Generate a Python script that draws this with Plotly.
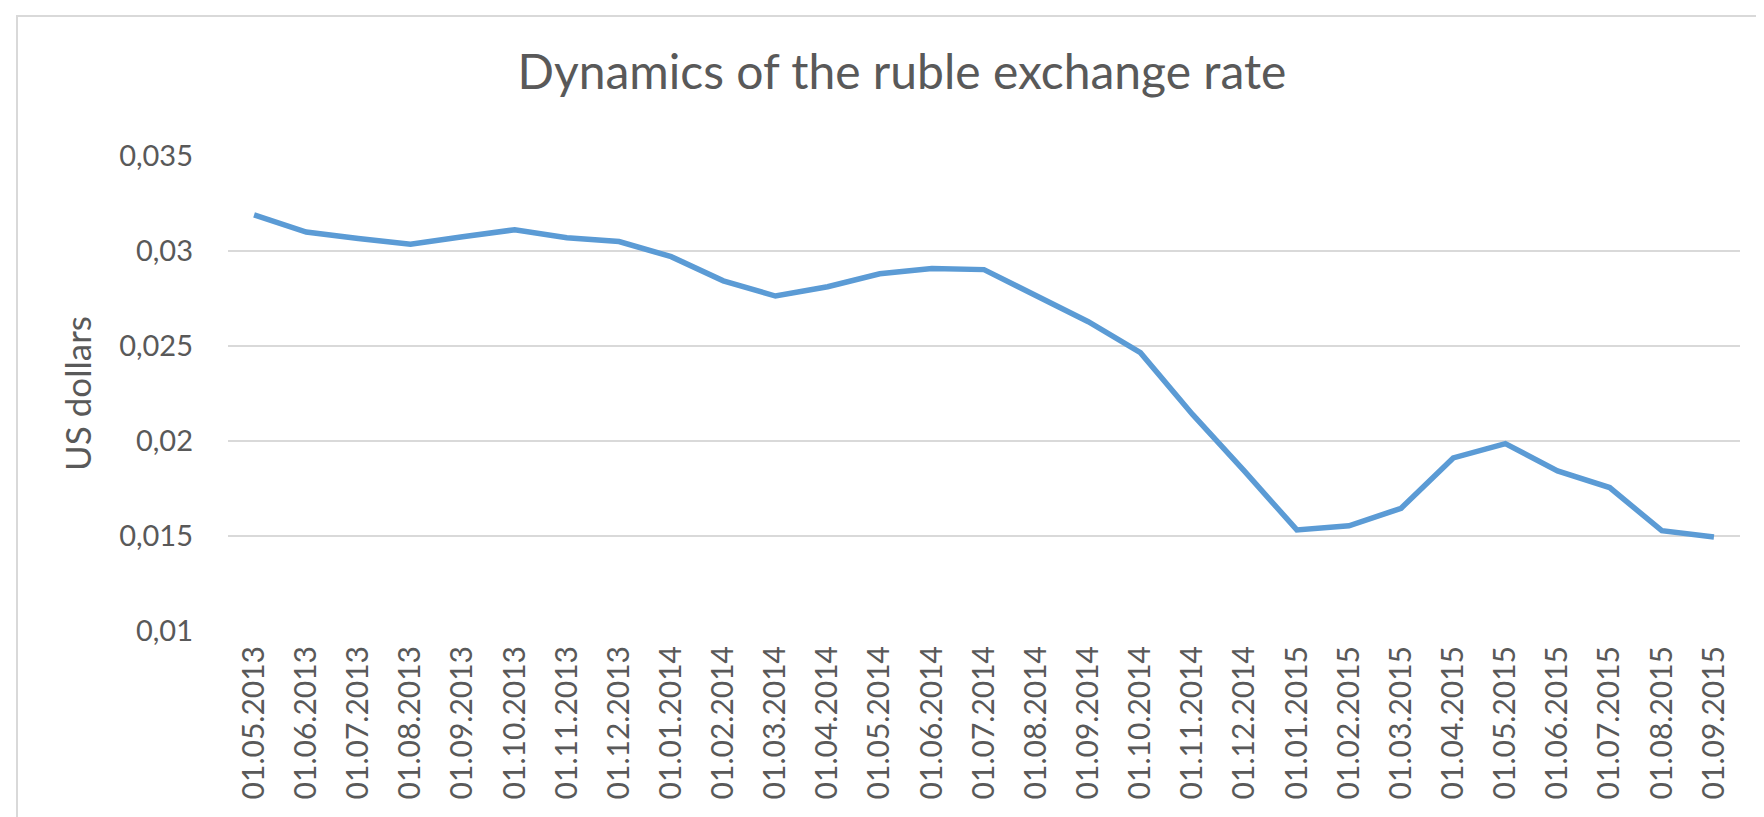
import plotly.graph_objects as go

# monthly dates (category labels) and ruble value in US dollars
dates = [
    "01.05.2013", "01.06.2013", "01.07.2013", "01.08.2013", "01.09.2013",
    "01.10.2013", "01.11.2013", "01.12.2013", "01.01.2014", "01.02.2014",
    "01.03.2014", "01.04.2014", "01.05.2014", "01.06.2014", "01.07.2014",
    "01.08.2014", "01.09.2014", "01.10.2014", "01.11.2014", "01.12.2014",
    "01.01.2015", "01.02.2015", "01.03.2015", "01.04.2015", "01.05.2015",
    "01.06.2015", "01.07.2015", "01.08.2015", "01.09.2015",
]
rate_usd = [
    0.0319, 0.0310, 0.03066, 0.03036, 0.03075,
    0.03112, 0.0307, 0.0305, 0.0297, 0.02843,
    0.02763, 0.02812, 0.0288, 0.02908, 0.02902,
    0.02766, 0.02628, 0.02465, 0.02140, 0.01840,
    0.01532, 0.01554, 0.01646, 0.01911, 0.01986,
    0.01843, 0.01755, 0.01528, 0.01495,
]
y_ticks = [0.01, 0.015, 0.02, 0.025, 0.03, 0.035]

W, H = 1764, 817
L, R, T, B = 220, 32, 148, 194
pw, ph = W - L - R, H - T - B

FONT = "Lato, Roboto, sans-serif"
GREY = "#595959"

fig = go.Figure()
fig.add_trace(go.Scatter(
    x=dates, y=rate_usd, mode="lines",
    line=dict(color="#5B9BD5", width=5.5),
    hoverinfo="x+y",
))

# outer chart frame (Excel-style chart border)
def px_x(v):
    return (v - L) / pw

def px_y(v):
    return (H - B - v) / ph

fig.add_shape(type="rect", xref="paper", yref="paper",
              x0=px_x(9), x1=px_x(1790), y0=px_y(8), y1=px_y(830),
              line=dict(color="#D9D9D9", width=2), layer="below")

fig.update_layout(
    width=W, height=H,
    margin=dict(l=L, r=R, t=T, b=B),
    paper_bgcolor="white", plot_bgcolor="white",
    separators=", ",
    showlegend=False,
    font=dict(family=FONT, color=GREY),
    title=dict(
        text="Dynamics of the ruble exchange rate",
        font=dict(family=FONT, size=48, color=GREY),
        x=894 / W, xref="container", xanchor="center",
        y=1 - 64 / H, yref="container", yanchor="middle",
    ),
)
fig.update_xaxes(
    type="category", range=[-0.5, len(dates) - 0.5],
    tickangle=-90, tickfont=dict(family=FONT, size=30, color=GREY),
    showgrid=False, showline=False, ticks="", ticklabelstandoff=8,
)
fig.update_yaxes(
    range=[0.01, 0.035], tickvals=y_ticks,
    tickfont=dict(family=FONT, size=29, color=GREY),
    showgrid=True, gridcolor="#D9D9D9", gridwidth=2,
    zeroline=False, showline=False, ticks="", ticklabelstandoff=34,
    title=dict(text="US dollars", font=dict(family=FONT, size=35, color=GREY), standoff=16),
)

fig.write_html("out.html")
